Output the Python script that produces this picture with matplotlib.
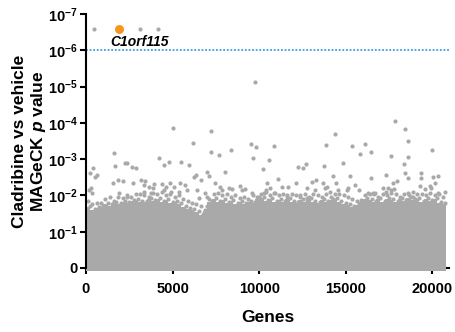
import numpy as np
import matplotlib
matplotlib.use("Agg")
import matplotlib.pyplot as plt

plt.rcParams['font.family'] = ['Liberation Sans', 'DejaVu Sans']
plt.rcParams['font.weight'] = 'bold'
plt.rcParams['mathtext.fontset'] = 'custom'
plt.rcParams['mathtext.rm'] = 'Liberation Sans:bold'
plt.rcParams['mathtext.it'] = 'Liberation Sans:bold:italic'
plt.rcParams['mathtext.bf'] = 'Liberation Sans:bold'
plt.rcParams['mathtext.default'] = 'rm'

# ---- data (y = -log10 p) ----
hit_name = "C1orf115"
hit_x = [1911]
hit_y = [6.6]

gene_x = [463, 3127, 4130, 9768,
          5036, 7220, 6155, 1640, 7220, 7700, 4190, 1680, 2260, 2390, 2680, 2895, 4480, 4790, 5500, 5920, 390, 8377,
          9515, 9826, 9632, 10846, 10556, 10209, 12255, 12545, 12700, 13760, 13840, 14360, 14820, 15360, 15810, 16080,
          16445, 17600, 17850, 18410, 18590, 18590, 18375, 19995,
          232, 654, 521, 1581, 1870, 2160, 2739, 3167, 3416, 3358, 3648, 3937, 3897, 4360, 4615, 4864, 5095, 307, 365,
          8008, 7006, 7081, 6350, 6213, 6660, 10462, 8876, 9166, 7469, 7759, 8239, 8436, 5443, 5732, 6409, 6890, 9594,
          9976, 10266,
          14284, 15245, 13028, 13277, 12119, 14435, 15535, 11100, 11290, 11678, 13664, 13896, 15054, 12779, 14087, 14573,
          16427, 17330, 18395, 18586, 19321, 19356, 20033, 20323, 17966, 17717, 17775, 19263, 19553, 19842, 20132, 20711,
          15790, 16270, 16658, 17138, 17330, 18586, 18875,
          174, 3358, 3744, 4516, 4900, 1910, 2390, 5345, 5830, 6502, 6988, 7855, 9015, 10364, 10613, 10903, 11580,
          13220, 13800, 15152, 12350, 12738, 16560, 17430, 17620, 19935, 20323]
gene_y = [6.6, 6.6, 6.6, 5.13,
          3.86, 3.78, 3.45, 3.16, 3.20, 3.11, 3.02, 2.82, 2.88, 2.90, 2.79, 2.75, 2.84, 2.91, 2.91, 2.84, 2.76, 3.26,
          3.43, 3.34, 3.04, 3.37, 2.98, 2.72, 2.77, 2.75, 2.87, 2.82, 3.39, 3.69, 2.88, 3.36, 3.13, 3.43,
          3.19, 3.09, 4.06, 3.82, 3.51, 3.07, 2.87, 3.25,
          2.63, 2.56, 2.52, 2.33, 2.42, 2.40, 2.35, 2.42, 2.40, 2.29, 2.24, 2.31, 2.20, 2.31, 2.24, 2.35, 2.24, 2.20, 2.06,
          2.65, 2.65, 2.54, 2.56, 2.52, 2.42, 2.35, 2.26, 2.17, 2.33, 2.24, 2.20, 2.17, 2.33, 2.29, 2.15, 2.06, 2.06,
          1.96, 2.06,
          2.53, 2.53, 2.36, 2.42, 2.33, 2.35, 2.29, 2.44, 2.24, 2.24, 2.33, 2.24, 2.15, 2.20, 2.10, 2.15,
          2.47, 2.56, 2.61, 2.47, 2.61, 2.47, 2.52, 2.53, 2.40, 2.33, 2.17, 2.26, 2.17, 2.26, 2.33, 2.10,
          2.15, 2.07, 2.06, 2.20, 2.10, 2.06, 1.96,
          2.15, 2.10, 2.06, 2.15, 2.10, 2.06, 1.96, 2.10, 2.15, 1.92, 1.96, 2.15, 2.15, 2.15, 2.20, 2.06, 2.01,
          2.15, 2.20, 2.20, 2.01, 1.92, 2.06, 2.20, 2.15, 2.20, 2.06]

# top of the dense cloud of genes, per 250-gene bin (bin centres 125, 375, ...)
band_centres = list(range(125, 20750, 250))
band_top = [1.85, 1.75, 1.80, 1.78, 1.90, 1.95, 1.85, 1.97, 1.93, 2.00, 1.95, 2.03,
            2.05, 2.00, 1.97, 2.07, 2.03, 2.10, 2.00, 2.05, 1.97, 2.01, 1.90, 1.85,
            1.80, 1.75, 1.72, 1.60, 1.90, 2.03, 2.07, 2.00, 2.03, 1.95, 2.00, 1.93,
            1.97, 1.90, 2.00, 1.95, 2.05, 2.10, 2.00, 2.07, 2.00, 2.03, 1.97, 2.05,
            2.00, 1.95, 2.03, 1.97, 2.05, 2.00, 1.95, 2.03, 1.97, 2.03, 2.05, 2.00,
            1.95, 1.90, 1.85, 1.87, 2.00, 2.05, 2.03, 1.97, 2.05, 2.00, 2.07, 2.03,
            1.97, 2.05, 2.00, 2.10, 2.03, 2.05, 2.00, 2.07, 2.00, 2.05, 1.95]
# second, lower row of the ragged edge (positions 250, 500, ...)
band_mid_pos = list(range(250, 20751, 250))
band_mid = [1.70, 1.62, 1.68, 1.72, 1.78, 1.75, 1.82, 1.80, 1.85, 1.82, 1.88, 1.90,
            1.85, 1.86, 1.92, 1.88, 1.93, 1.85, 1.90, 1.82, 1.86, 1.78, 1.72, 1.66,
            1.62, 1.58, 1.48, 1.70, 1.86, 1.92, 1.85, 1.90, 1.82, 1.88, 1.80, 1.84,
            1.78, 1.86, 1.82, 1.92, 1.95, 1.88, 1.93, 1.86, 1.90, 1.84, 1.92, 1.86,
            1.82, 1.90, 1.85, 1.92, 1.86, 1.82, 1.90, 1.84, 1.90, 1.92, 1.86, 1.80,
            1.76, 1.72, 1.76, 1.86, 1.92, 1.90, 1.84, 1.92, 1.86, 1.93, 1.90, 1.85,
            1.92, 1.88, 1.95, 1.90, 1.92, 1.86, 1.93, 1.88, 1.92, 1.82, 1.78]
cloud_end = 20780

threshold = 6.0
ytick_vals = [0, 1, 2, 3, 4, 5, 6, 7]
ytick_labels = ['0'] + [rf'$10^{{-{k}}}$' for k in range(1, 8)]
xtick_vals = [0, 5000, 10000, 15000, 20000]

GRAY = '#a9a9a9'
ORANGE = '#f7941d'
BLUE = '#3c9de0'
S = 9

fig = plt.figure(figsize=(4.55, 3.32), dpi=100)
ax = fig.add_axes([0.189, 0.1928, 0.7975, 0.765])

# dense cloud: solid core plus two rows of dots forming the ragged edge
bx = np.array(band_centres, dtype=float)
bt = np.array(band_top)
bm = np.array(band_mid)
core = np.minimum(bt, bm) - 0.03
edges_x = np.concatenate([[0], bx, [cloud_end]])
edges_y = np.concatenate([[core[0]], core, [core[-1]]])
ax.fill_between(edges_x, -0.07, edges_y, step='mid', color=GRAY, lw=0, zorder=3, clip_on=False)
ax.scatter(band_mid_pos, bm, s=S, color=GRAY, lw=0, zorder=3, clip_on=False)
ax.scatter(bx, bt, s=S, color=GRAY, lw=0, zorder=3, clip_on=False)

# individual genes
ax.scatter(gene_x, gene_y, s=S, color=GRAY, lw=0, zorder=3, clip_on=False)
ax.scatter(hit_x, hit_y, s=42, color=ORANGE, lw=0, zorder=4, clip_on=False)
ax.text(3069, 6.23, hit_name, fontsize=10, fontweight='bold', style='italic',
        ha='center', va='center')

ax.axhline(threshold, color=BLUE, ls=(0, (1, 1)), lw=1.3, zorder=2)

ax.set_xlim(0, 20950)
ax.set_ylim(0, 7)
ax.set_yticks(ytick_vals)
ax.set_yticklabels(ytick_labels)
ax.set_xticks(xtick_vals)
ax.set_xticklabels([str(v) for v in xtick_vals])
ax.tick_params(axis='both', direction='out', width=1.5, length=4, labelsize=10.5)
ax.tick_params(axis='y', pad=2)
ax.tick_params(axis='x', pad=6)
for lab in ax.get_xticklabels() + ax.get_yticklabels():
    lab.set_fontweight('bold')

ax.spines['top'].set_visible(False)
ax.spines['right'].set_visible(False)
ax.spines['left'].set_linewidth(1.5)
ax.spines['left'].set_zorder(5)
ax.spines['bottom'].set_linewidth(1.5)
ax.spines['bottom'].set_zorder(1)

fig.text(268 / 455, 1 - 317 / 332, 'Genes', fontsize=12.5, fontweight='bold',
         ha='center', va='center')
fig.text(30 / 455, 1 - 141 / 332, 'Cladribine vs vehicle\nMAGeCK $\\mathit{p}$ value',
         fontsize=12.5, fontweight='bold', rotation=90, ha='center', va='center',
         multialignment='center', linespacing=1.15)

fig.savefig('out.png', dpi=100)
